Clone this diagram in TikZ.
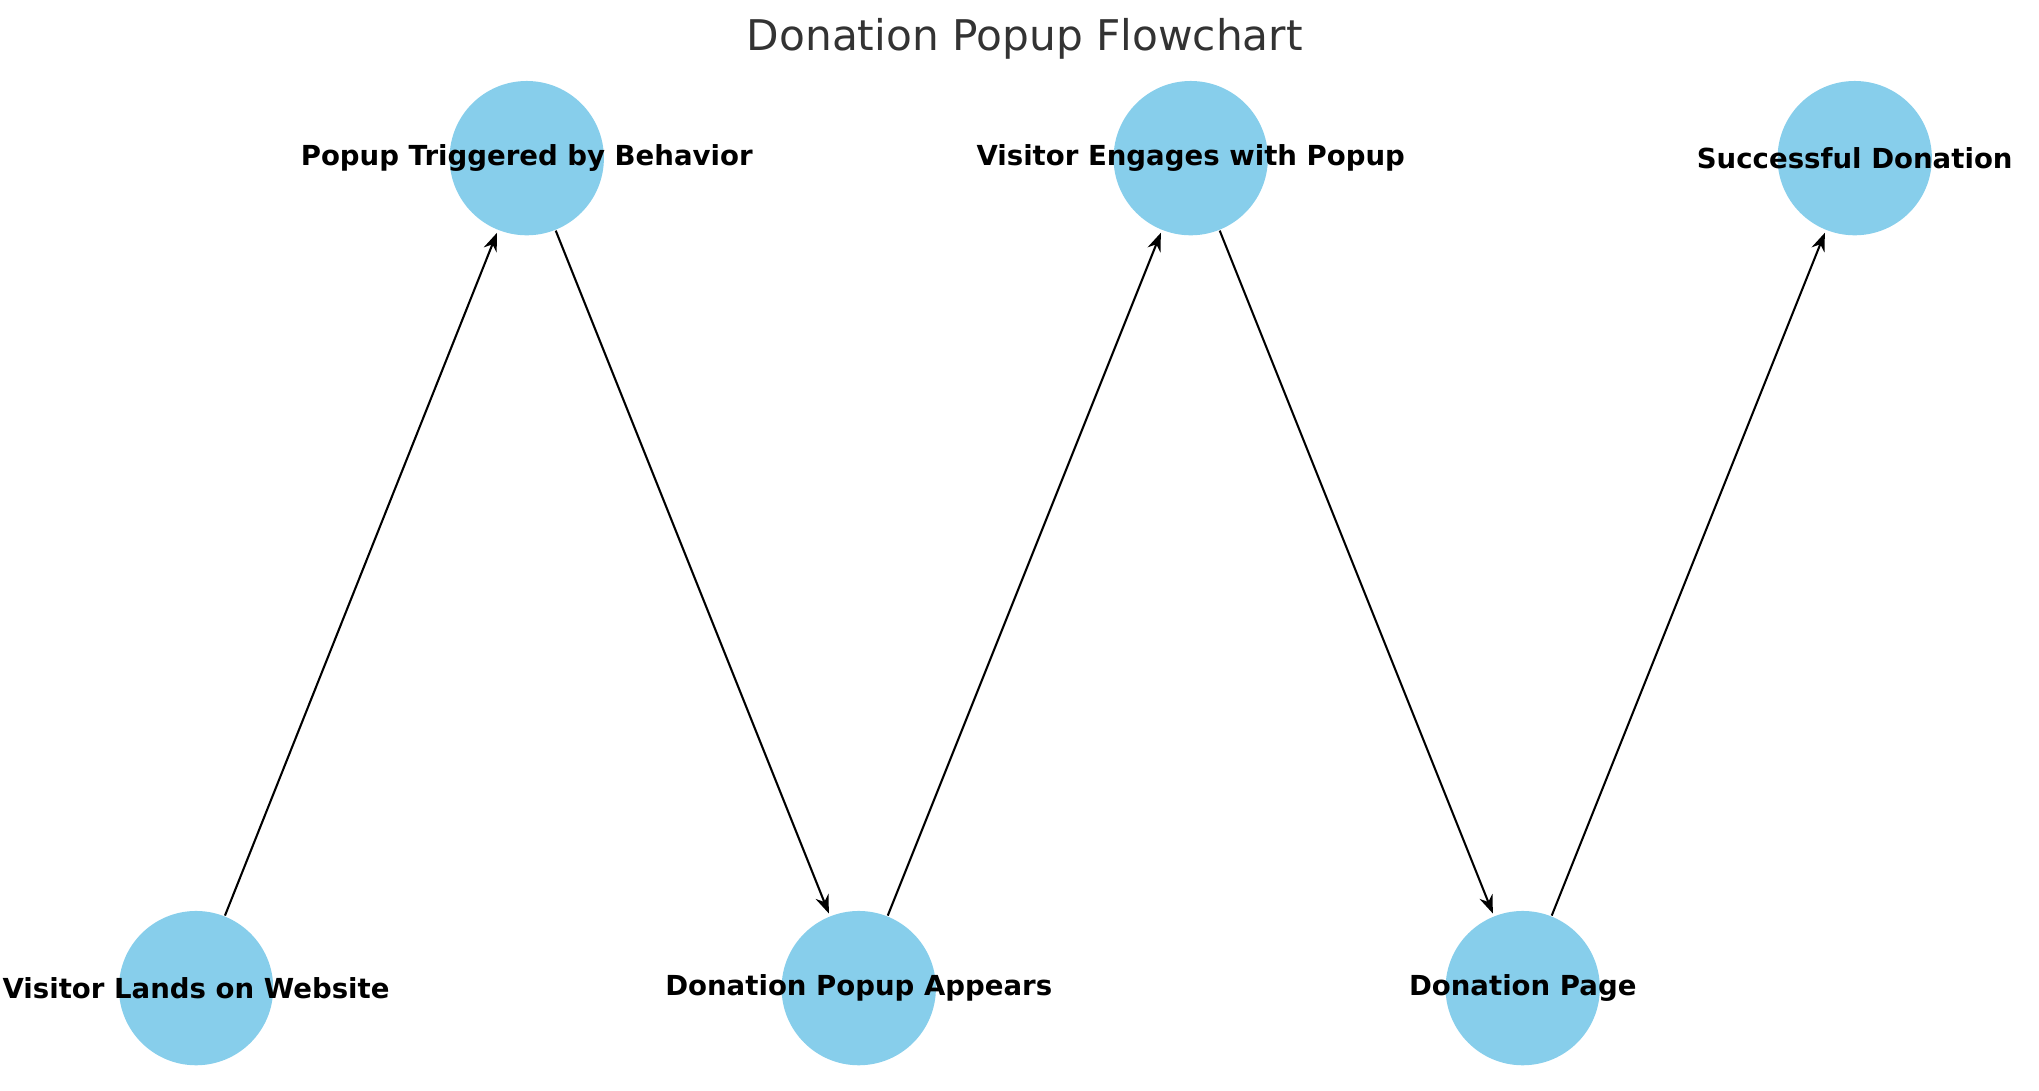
\documentclass[tikz,border=0pt]{standalone}
\usepackage{fontspec}
\setmainfont{DejaVu Sans}
\usetikzlibrary{arrows.meta}
\definecolor{skyblue}{HTML}{87CEEB}
\definecolor{titlegray}{HTML}{333333}
\begin{document}
\begin{tikzpicture}[x=0.01cm, y=-0.01cm]
    % Styles
    \tikzset{
        stage/.style={circle, fill=skyblue, minimum size=1.18cm, inner sep=0pt},
        stagelabel/.style={font=\fontsize{6}{7}\selectfont\bfseries, text=black},
        arrow/.style={line width=0.45pt, -{Stealth[length=4pt, width=3pt]}, shorten >=0.5pt}
    }
    \clip (0,0) rectangle (1560,834);
    \useasboundingbox (0,0) rectangle (1560,834);

    \node[font=\fontsize{9.2}{11}\selectfont, text=titlegray] (title) at (784,30) {Donation Popup Flowchart};

    % Nodes
    \node (land) [stage] at (150,756) {};
    \node (trigger) [stage] at (403,121) {};
    \node (appear) [stage] at (657,756) {};
    \node (engage) [stage] at (911,121) {};
    \node (page) [stage] at (1165,756) {};
    \node (success) [stage] at (1419,121) {};

    % Labels
    \node[stagelabel] at (land) {Visitor Lands on Website};
    \node[stagelabel] at (trigger) {Popup Triggered by Behavior};
    \node[stagelabel] at (appear) {Donation Popup Appears};
    \node[stagelabel] at (engage) {Visitor Engages with Popup};
    \node[stagelabel] at (page) {Donation Page};
    \node[stagelabel] at (success) {Successful Donation};

    % Arrows
    \draw [arrow] (land) -- (trigger);
    \draw [arrow] (trigger) -- (appear);
    \draw [arrow] (appear) -- (engage);
    \draw [arrow] (engage) -- (page);
    \draw [arrow] (page) -- (success);
\end{tikzpicture}
\end{document}
